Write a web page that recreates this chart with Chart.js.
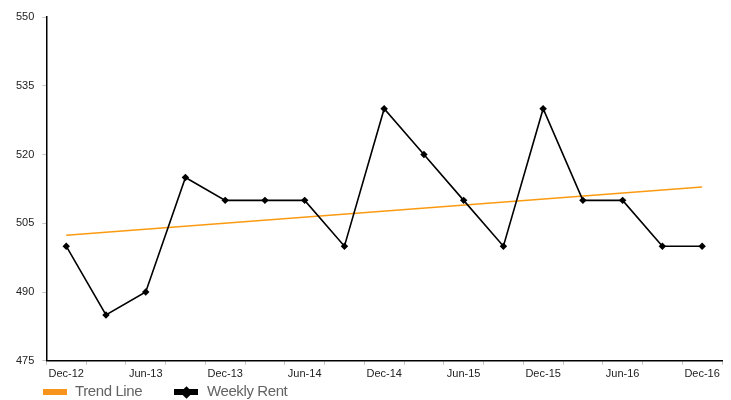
<!DOCTYPE html>
<html>
<head>
<meta charset="utf-8">
<script src="https://cdn.jsdelivr.net/npm/chart.js@4"></script>
<style>
  html, body { margin: 0; padding: 0; background: #fff; }
  #wrap { width: 731px; height: 400px; position: relative; }
  .legend { position: absolute; top: 382px; left: 0; height: 18px; font: 15px "Liberation Sans", Arial, sans-serif; letter-spacing: -0.4px; color: #636363; }
  .legend span { position: absolute; top: 0; white-space: nowrap; line-height: 18px; }
  .legend i { position: absolute; display: block; }
</style>
</head>
<body>
<div id="wrap">
  <canvas id="rent-chart"></canvas>
  <div class="legend">
    <i style="left:43px;top:7px;width:24px;height:6px;background:#F7941D"></i>
    <span style="left:75px">Trend Line</span>
    <i style="left:174px;top:7px;width:24px;height:6px;background:#000"></i>
    <i style="left:181.5px;top:5.5px;width:9px;height:9px;background:#000;transform:rotate(45deg)"></i>
    <span style="left:207px">Weekly Rent</span>
  </div>
</div>
<script>
// quarterly periods, only every other one gets a label on the axis
const quarters = [
  'Dec-12', 'Mar-13', 'Jun-13', 'Sep-13', 'Dec-13', 'Mar-14', 'Jun-14', 'Sep-14',
  'Dec-14', 'Mar-15', 'Jun-15', 'Sep-15', 'Dec-15', 'Mar-16', 'Jun-16', 'Sep-16', 'Dec-16'
];
const weeklyRent = [500, 485, 490, 515, 510, 510, 510, 500, 530, 520, 510, 500, 530, 510, 510, 500, 500];
// trend line read at its two ends
const trendLine = [502.4, null, null, null, null, null, null, null, null, null, null, null, null, null, null, null, 512.9];
const yTicks = [475, 490, 505, 520, 535, 550];

const ctx = document.getElementById('rent-chart').getContext('2d');
new Chart(ctx, {
  type: 'line',
  data: {
    labels: quarters,
    datasets: [
      {
        label: 'Trend Line',
        data: trendLine,
        borderColor: '#FB9A10',
        borderWidth: 1.5,
        pointRadius: 0,
        spanGaps: true,
        order: 2,
      },
      {
        label: 'Weekly Rent',
        data: weeklyRent,
        borderColor: '#000',
        backgroundColor: '#000',
        borderWidth: 1.6,
        pointStyle: 'rectRot',
        pointRadius: 2.6,
        tension: 0,
        order: 1,
      },
    ],
  },
  options: {
    responsive: true,
    maintainAspectRatio: false,
    animation: false,
    layout: { padding: { top: 17, right: 9, left: 8, bottom: 16 } },
    plugins: {
      tooltip: { enabled: false },
      legend: { display: false },
    },
    scales: {
      x: {
        offset: true,
        grid: { offset: true, drawOnChartArea: false, drawTicks: true, tickLength: 4, color: '#c4c4c4' },
        border: { color: '#000', width: 1.5 },
        ticks: {
          autoSkip: false,
          maxRotation: 0,
          color: '#222',
          padding: 3,
          font: { family: 'Liberation Sans, Arial, sans-serif', size: 11 },
          callback: (v, i) => (i % 2 === 0 ? quarters[i] : ''),
        },
      },
      y: {
        min: 475,
        max: 550,
        afterBuildTicks: (axis) => { axis.ticks = yTicks.map((v) => ({ value: v })); },
        grid: { drawOnChartArea: false, drawTicks: true, tickLength: 4, color: '#c4c4c4' },
        border: { color: '#000', width: 1.5 },
        ticks: {
          color: '#222',
          padding: 8,
          font: { family: 'Liberation Sans, Arial, sans-serif', size: 11 },
        },
      },
    },
  },
});
</script>
</body>
</html>
